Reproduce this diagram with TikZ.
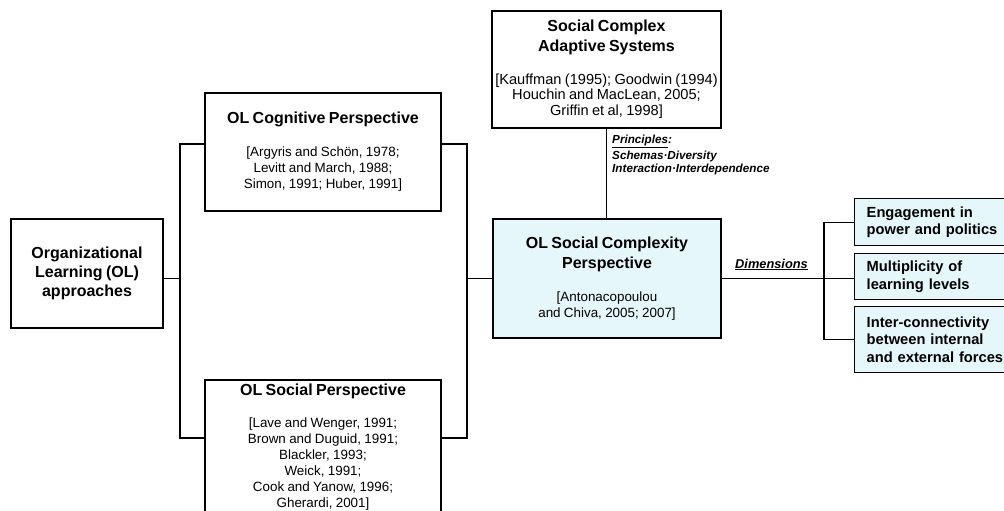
\documentclass[tikz,border=0pt]{standalone}
\usepackage{fontspec}
\setmainfont{Liberation Sans}
\usepackage{tikz}
\definecolor{paleblue}{RGB}{230,247,252}

\newcommand{\boxtitle}[1]{{\fontsize{16}{19.3}\selectfont\bfseries #1\par}}
\newcommand{\boxcite}[1]{{\fontsize{13.4}{16}\selectfont #1\par}}

\begin{document}
\begin{tikzpicture}[x=1pt,y=-1pt,
  box/.style={draw,line width=1.4pt,fill=white,inner sep=0pt,align=center},
  dimbox/.style={draw,line width=1.4pt,fill=paleblue,inner xsep=12pt,inner ysep=0pt,
    align=left,text width=140pt,anchor=north west,
    font=\fontsize{14.7}{17.7}\selectfont\bfseries},
  tag/.style={inner sep=0pt,font=\fontsize{11.7}{13}\selectfont\bfseries\itshape},
  link/.style={line width=1.3pt}]
\clip (0,0) rectangle (1004,511);
%%\draw[help lines,step=50] (0,0) grid (1004,511);

% boxes
\node[box,text width=152pt,minimum height=109pt] (olapp) at (87,273.5)
  {\boxtitle{Organizational\\Learning (OL)\\approaches}};
\node[box,text width=236pt,minimum height=118pt] (cog) at (323,152)
  {\boxtitle{OL Cognitive Perspective}\vspace{17pt}
   \boxcite{[Argyris and Schön, 1978;\\Levitt and March, 1988;\\Simon, 1991; Huber, 1991]}};
\node[box,text width=236pt,minimum height=134pt] (soc) at (323,447)
  {\boxtitle{OL Social Perspective}\vspace{16pt}
   \boxcite{[Lave and Wenger, 1991;\\Brown and Duguid, 1991;\\Blackler, 1993;\\Weick, 1991;\\Cook and Yanow, 1996;\\Gherardi, 2001]}};
\node[box,text width=229pt,minimum height=117pt] (cas) at (606.5,69.5)
  {\boxtitle{Social Complex\\Adaptive Systems}\vspace{17pt}
   {\fontsize{14.6}{15.8}\selectfont [Kauffman (1995); Goodwin (1994)\\Houchin and MacLean, 2005;\\Griffin et al, 1998]\par}};
\node[box,fill=paleblue,text width=228pt,minimum height=119pt] (cplx) at (607,278.5)
  {\boxtitle{OL Social Complexity\\Perspective}\vspace{17pt}
   \boxcite{[Antonacopoulou\\and Chiva, 2005; 2007]}};
\node[dimbox,minimum height=47pt] (dim1) at (854,198) {Engagement in\\power and politics};
\node[dimbox,minimum height=46pt] (dim2) at (854,253) {Multiplicity of\\learning levels};
\node[dimbox,minimum height=66pt] (dim3) at (854,306) {Inter-connectivity\\between internal\\and external forces};

% labels
\node[tag,anchor=base west,align=left] (prin) at (612,172)
  {\underline{Principles}:\\[3pt]Schemas·Diversity\\Interaction·Interdependence};
\node[tag,anchor=base west,font=\fontsize{12.8}{14}\selectfont\bfseries\itshape] (dimlab) at (735,268)
  {\underline{Dimensions}};

% connectors
\coordinate (ltop) at (180,144);
\coordinate (lbot) at (180,438);
\coordinate (rtop) at (467,144);
\coordinate (rbot) at (467,438);
\coordinate (dj) at (824,278.5);
\draw[link] (cog.west |- ltop) -- (ltop) -- (lbot) -- (soc.west |- lbot);
\draw[link] (cog.east |- rtop) -- (rtop) -- (rbot) -- (soc.east |- rbot);
\draw[link] (olapp.east |- cplx.west) -- (ltop |- cplx.west);
\draw[link] (rtop |- cplx.west) -- (cplx.west);
\draw[link] (cas.south) -- (cas.south |- cplx.north);
\draw[link] (cplx.east) -- (cplx.east -| dim2.west);
\draw[link] (dim1.west) -| (dj) |- (dim3.west);
\end{tikzpicture}
\end{document}
